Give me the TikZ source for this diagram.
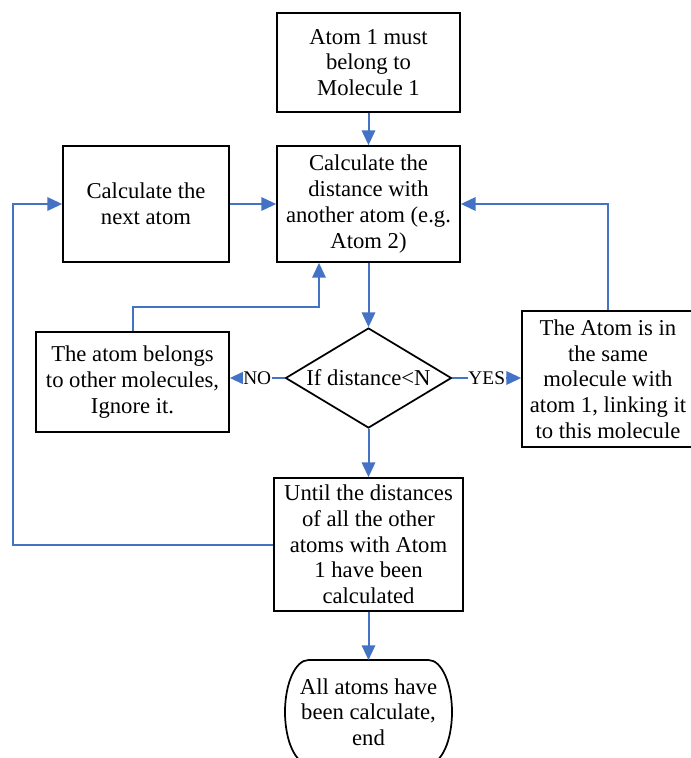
\documentclass[tikz,border=0pt]{standalone}
\usepackage{fontspec}
\setmainfont{Liberation Serif}
\usetikzlibrary{arrows.meta,shapes.geometric}
\definecolor{linkblue}{HTML}{4472C4}
\tikzset{
  base/.style = {draw = black, line width = 1.3pt, align = center, inner sep = 1pt,
    font = \fontsize{17}{19.3}\selectfont},
  box/.style = {base, rectangle},
  decision/.style = {base, diamond, aspect = 1.66, inner sep = 0pt},
  terminal/.style = {base, draw = none, outer sep = 0pt},
  link/.style = {draw = linkblue, line width = 1.5pt, -{Triangle[length = 11pt, width = 10pt]}},
  lbl/.style = {fill = white, inner sep = 0.5pt, font = \fontsize{14.5}{15}\selectfont}
}
\begin{document}
\begin{tikzpicture}[x = 0.75pt, y = -0.75pt]
        \useasboundingbox (0,0) rectangle (691,758);
        \clip (0,0) rectangle (691,758);
        \node (start)[box, minimum width = 137.25pt, minimum height = 74.25pt]
        at (368.5,62.5) {Atom 1 must\\belong to\\Molecule 1};
        \node (calc)[box, minimum width = 137.25pt, minimum height = 87pt]
        at (368.5,204) {Calculate the\\distance with\\another atom (e.g.\\Atom 2)};
        \node (next)[box, minimum width = 124.5pt, minimum height = 87pt]
        at (146,204) {Calculate the\\next atom};
        \node (check)[decision, minimum width = 124.5pt, minimum height = 75pt]
        at (368.5,378) {If distance<N};
        \node (other)[box, minimum width = 144.75pt, minimum height = 75pt]
        at (132.5,382) {The atom belongs\\to other molecules,\\Ignore it.};
        \node (same)[box, minimum width = 129pt, minimum height = 102pt]
        at (608,379) {The Atom is in\\the same\\molecule with\\atom 1, linking it\\to this molecule};
        \node (until)[box, minimum width = 141.75pt, minimum height = 99.75pt]
        at (368.5,544.5) {Until the distances\\of all the other\\atoms with Atom\\1 have been\\calculated};
        \node (finish)[terminal, minimum width = 125.25pt, minimum height = 78pt]
        at (368.5,712) {All atoms have\\been calculate,\\end};
        \draw[line width = 1.3pt] (finish.north) -- ([xshift = -17.6pt]finish.north east)
        arc[start angle = 90, end angle = -90, x radius = 17.6pt, y radius = 39pt]
        -- ([xshift = 17.6pt]finish.south west)
        arc[start angle = 270, end angle = 90, x radius = 17.6pt, y radius = 39pt] -- cycle;
        \coordinate (bend) at (319,307);
        \coordinate (loop) at (13,544.5);
        \path(start) edge[link] (calc);
        \path(next) edge[link] (calc);
        \path(calc) edge[link] (check);
        \path(check) edge[link] (until);
        \path(until) edge[link] (finish);
        \path(check.west) edge[link] node[lbl] {NO} (check.west -| other.east);
        \path(check.east) edge[link] node[lbl] {YES} (check.east -| same.west);
        \draw[link] (other.north) |- (bend) -- (bend |- calc.south);
        \draw[link] (same.north) |- (calc.east);
        \draw[link] (until.west) -- (loop) |- (next.west);
    \end{tikzpicture}
\end{document}
